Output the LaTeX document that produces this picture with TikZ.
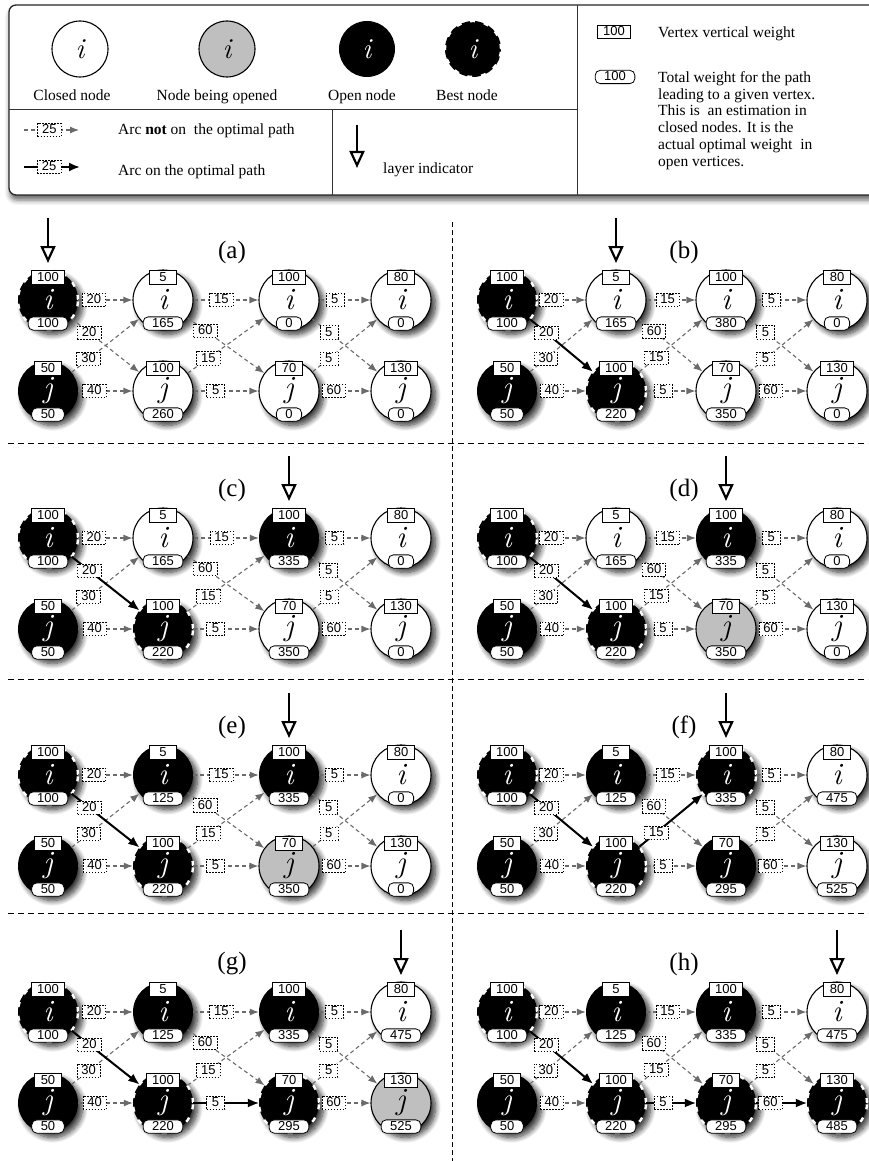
\documentclass[tikz,border=0pt]{standalone}
\usepackage{fontspec}
\setmainfont{Liberation Serif}
\setsansfont{Liberation Sans}
\newfontfamily\lmrfont{Latin Modern Roman}
\newcommand\vletter[1]{{\lmrfont\itshape #1}}
\usetikzlibrary{arrows.meta,shadows.blur}
\definecolor{nodegray}{gray}{0.75}
\definecolor{arcgray}{gray}{0.42}

% one vertex: circle, vertical weight on top, path weight below
\newcommand\Vtx[7]{%
  \pgfmathsetmacro\vxx{#2}\pgfmathsetmacro\vyy{#3}%
  \node[#4] (#1) at (\vxx,\vyy) {\vletter{#5}};
  \node[wbox] (#1t) at (\vxx,\vyy-22.5) {#6};
  \node[tbox] (#1b) at (\vxx,\vyy+23.5) {#7};
}
% the twelve arcs of a layered graph
\newcommand\Arcs[1]{%
  \draw[garc] (#1-i1) -- node[alabel,pos=.29]{20} (#1-i2);
  \draw[garc] (#1-i1) -- node[alabel,pos=.26]{20} (#1-j2);
  \draw[garc] (#1-j1) -- node[alabel,pos=.25]{30} (#1-i2);
  \draw[garc] (#1-j1) -- node[alabel,pos=.30]{40} (#1-j2);
  \draw[garc] (#1-i2) -- node[alabel,pos=.43]{15} (#1-i3);
  \draw[garc] (#1-i2) -- node[alabel,pos=.23]{60} (#1-j3);
  \draw[garc] (#1-j2) -- node[alabel,pos=.27]{15} (#1-i3);
  \draw[garc] (#1-j2) -- node[alabel,pos=.34]{5} (#1-j3);
  \draw[garc] (#1-i3) -- node[alabel,pos=.30]{5} (#1-i4);
  \draw[garc] (#1-i3) -- node[alabel,pos=.25]{5} (#1-j4);
  \draw[garc] (#1-j3) -- node[alabel,pos=.25]{5} (#1-i4);
  \draw[garc] (#1-j3) -- node[alabel,pos=.28]{60} (#1-j4);
}
% an arc of the optimal path, drawn over its grey version
\newcommand\Opt[5]{\draw[oarc] (#1-#2) -- node[alabel,pos=#4]{#5} (#1-#3);}
% layer indicator above a column
\newcommand\Layer[2]{%
  \coordinate (#1-lt) at (#2,\yi-82);
  \coordinate (#1-lb) at (#2,\yi-37);
  \draw[layer] (#1-lt) -- (#1-lb);
}
\newcommand\Plabel[1]{\node[plabel] (#1-lab) at (\px,\yi-48) {(#1)};}
\newcommand\LeftCols{\def\cxa{48}\def\cxb{163}\def\cxc{289}\def\cxd{401}\def\px{232}}
\newcommand\RightCols{\def\cxa{507}\def\cxb{616}\def\cxc{726}\def\cxd{837}\def\px{684}}
\newcommand\RowY[1]{\def\yi{#1}\pgfmathsetmacro\yj{#1+91}}

\begin{document}
\begin{tikzpicture}[x=1pt,y=-1pt,
  vshadow/.style={blur shadow={shadow xshift=4.5pt,shadow yshift=-4.5pt,shadow blur radius=5.5pt,shadow blur steps=10,shadow opacity=80}},
  fW/.style={draw=black,line width=1.1pt,fill=white},
  fG/.style={draw=black,line width=1.1pt,fill=nodegray},
  fB/.style={fill=black,text=white},
  fS/.style={fill=black,text=white,postaction={draw=white,line width=2.4pt,dash pattern=on 5pt off 9pt}},
  vbase/.style={circle,minimum size=60pt,inner sep=0pt,font=\fontsize{31}{31}\selectfont,vshadow},
  vW/.style={vbase,fW}, vG/.style={vbase,fG}, vB/.style={vbase,fB}, vS/.style={vbase,fS},
  lnode/.style={circle,minimum size=56pt,inner sep=0pt,font=\fontsize{29}{29}\selectfont},
  numfont/.style={font=\sffamily\fontsize{13}{13}\selectfont},
  wbox/.style={numfont,draw=black,fill=white,text=black,line width=0.8pt,inner xsep=6pt,inner ysep=0.8pt,text height=9.8pt,text depth=1.9pt,minimum width=27pt},
  tbox/.style={wbox,rounded corners=5pt,inner xsep=9pt,minimum width=24pt},
  alabel/.style={numfont,draw=black,fill=white,text=black,line width=0.6pt,dash pattern=on 1.6pt off 1.4pt,inner xsep=4.5pt,inner ysep=0.8pt,text height=9.8pt,text depth=1.9pt,minimum width=18pt},
  garc/.style={draw=arcgray,line width=1.1pt,dash pattern=on 4pt off 3pt,-{Latex[length=9pt,width=7pt]}},
  oarc/.style={draw=black,line width=2pt,-{Latex[length=11pt,width=9pt]}},
  layer/.style={draw=black,line width=2.8pt,-{Triangle[open,length=17pt,width=15pt,line width=2.2pt]}},
  ltext/.style={font=\fontsize{15.5}{16.7}\selectfont,inner sep=0pt},
  plabel/.style={font=\fontsize{25}{25}\selectfont,inner sep=0pt},
  rule/.style={draw=black!80,line width=1pt},
  divider/.style={draw=black,line width=0.9pt,dash pattern=on 6pt off 4pt},
]
\useasboundingbox (0,0) rectangle (868,1161);

% ---------------- legend ----------------
\draw[draw=black!85,line width=1.3pt,rounded corners=7pt,fill=white,
      blur shadow={shadow xshift=1pt,shadow yshift=-5pt,shadow blur radius=5pt,shadow opacity=60}]
  (9,5) rectangle (900,195);
\coordinate (lg-v1t) at (577,5);  \coordinate (lg-v1b) at (577,195);
\coordinate (lg-h1l) at (9,110);  \coordinate (lg-h1r) at (577,110);
\coordinate (lg-v2t) at (332,110); \coordinate (lg-v2b) at (332,195);
\draw[rule] (lg-v1t) -- (lg-v1b);
\draw[rule] (lg-h1l) -- (lg-h1r);
\draw[rule] (lg-v2t) -- (lg-v2b);

\node[lnode,fW] (lg-closed)  at (80,49)  {\vletter{i}};
\node[lnode,fG] (lg-opening) at (227,49) {\vletter{i}};
\node[lnode,fB] (lg-open)    at (367,49) {\vletter{i}};
\node[lnode,fS] (lg-best)    at (473,49) {\vletter{i}};
\node[ltext,anchor=base] (lg-closed-t)  at (72,101)  {Closed node};
\node[ltext,anchor=base] (lg-opening-t) at (217,101) {Node being opened};
\node[ltext,anchor=base] (lg-open-t)    at (362,101) {Open node};
\node[ltext,anchor=base] (lg-best-t)    at (467,101) {Best node};

\coordinate (lg-g1) at (24,130); \coordinate (lg-g2) at (79,130);
\draw[garc] (lg-g1) -- node[alabel,pos=.46]{25} (lg-g2);
\coordinate (lg-o1) at (24,167); \coordinate (lg-o2) at (80,167);
\draw[oarc] (lg-o1) -- node[alabel,pos=.45]{25} (lg-o2);
\node[ltext,anchor=base west] (lg-not) at (118,135) {Arc \textbf{not} on~ the optimal path};
\node[ltext,anchor=base west] (lg-on)  at (118,176) {Arc on the optimal path};

\coordinate (lg-l1) at (357,125); \coordinate (lg-l2) at (357,168);
\draw[layer] (lg-l1) -- (lg-l2);
\node[ltext,anchor=base west] (lg-layer) at (383,174) {layer indicator};

\node[wbox] (lg-w) at (614,32) {100};
\node[ltext,anchor=base west] (lg-w-t) at (658,38) {Vertex vertical weight};
\node[tbox] (lg-t) at (615,77) {100};
\node[ltext,anchor=north west,align=left] (lg-t-t) at (658,71.4)
  {Total weight for the path\\ leading to a given vertex.\\ This is~ an estimation in\\ closed nodes. It is the\\ actual optimal weight~ in\\ open vertices.};

% ---------------- dividers ----------------
\coordinate (d-v1) at (452,222); \coordinate (d-v2) at (452,1161);
\draw[draw=black,line width=0.8pt,dash pattern=on 4.5pt off 3.5pt] (d-v1) -- (d-v2);
\coordinate (d-a1) at (8,443); \coordinate (d-a2) at (868,443);
\coordinate (d-b1) at (8,679); \coordinate (d-b2) at (868,679);
\coordinate (d-c1) at (8,913); \coordinate (d-c2) at (868,913);
\draw[divider] (d-a1) -- (d-a2);
\draw[divider] (d-b1) -- (d-b2);
\draw[divider] (d-c1) -- (d-c2);

% ---------------- (a) ----------------
\LeftCols\RowY{300}
\Vtx{a-i1}{\cxa}{\yi}{vS}{i}{100}{100}
\Vtx{a-i2}{\cxb}{\yi}{vW}{i}{5}{165}
\Vtx{a-i3}{\cxc}{\yi}{vW}{i}{100}{0}
\Vtx{a-i4}{\cxd}{\yi}{vW}{i}{80}{0}
\Vtx{a-j1}{\cxa}{\yj}{vB}{j}{50}{50}
\Vtx{a-j2}{\cxb}{\yj}{vW}{j}{100}{260}
\Vtx{a-j3}{\cxc}{\yj}{vW}{j}{70}{0}
\Vtx{a-j4}{\cxd}{\yj}{vW}{j}{130}{0}
\Arcs{a}
\Layer{a}{\cxa}
\Plabel{a}

% ---------------- (b) ----------------
\RightCols\RowY{300}
\Vtx{b-i1}{\cxa}{\yi}{vS}{i}{100}{100}
\Vtx{b-i2}{\cxb}{\yi}{vW}{i}{5}{165}
\Vtx{b-i3}{\cxc}{\yi}{vW}{i}{100}{380}
\Vtx{b-i4}{\cxd}{\yi}{vW}{i}{80}{0}
\Vtx{b-j1}{\cxa}{\yj}{vB}{j}{50}{50}
\Vtx{b-j2}{\cxb}{\yj}{vS}{j}{100}{220}
\Vtx{b-j3}{\cxc}{\yj}{vW}{j}{70}{350}
\Vtx{b-j4}{\cxd}{\yj}{vW}{j}{130}{0}
\Arcs{b}
\Opt{b}{i1}{j2}{.26}{20}
\Layer{b}{\cxb}
\Plabel{b}

% ---------------- (c) ----------------
\LeftCols\RowY{538}
\Vtx{c-i1}{\cxa}{\yi}{vS}{i}{100}{100}
\Vtx{c-i2}{\cxb}{\yi}{vW}{i}{5}{165}
\Vtx{c-i3}{\cxc}{\yi}{vB}{i}{100}{335}
\Vtx{c-i4}{\cxd}{\yi}{vW}{i}{80}{0}
\Vtx{c-j1}{\cxa}{\yj}{vB}{j}{50}{50}
\Vtx{c-j2}{\cxb}{\yj}{vS}{j}{100}{220}
\Vtx{c-j3}{\cxc}{\yj}{vW}{j}{70}{350}
\Vtx{c-j4}{\cxd}{\yj}{vW}{j}{130}{0}
\Arcs{c}
\Opt{c}{i1}{j2}{.26}{20}
\Layer{c}{\cxc}
\Plabel{c}

% ---------------- (d) ----------------
\RightCols\RowY{538}
\Vtx{d-i1}{\cxa}{\yi}{vS}{i}{100}{100}
\Vtx{d-i2}{\cxb}{\yi}{vW}{i}{5}{165}
\Vtx{d-i3}{\cxc}{\yi}{vB}{i}{100}{335}
\Vtx{d-i4}{\cxd}{\yi}{vW}{i}{80}{0}
\Vtx{d-j1}{\cxa}{\yj}{vB}{j}{50}{50}
\Vtx{d-j2}{\cxb}{\yj}{vS}{j}{100}{220}
\Vtx{d-j3}{\cxc}{\yj}{vG}{j}{70}{350}
\Vtx{d-j4}{\cxd}{\yj}{vW}{j}{130}{0}
\Arcs{d}
\Opt{d}{i1}{j2}{.26}{20}
\Layer{d}{\cxc}
\Plabel{d}

% ---------------- (e) ----------------
\LeftCols\RowY{775}
\Vtx{e-i1}{\cxa}{\yi}{vS}{i}{100}{100}
\Vtx{e-i2}{\cxb}{\yi}{vB}{i}{5}{125}
\Vtx{e-i3}{\cxc}{\yi}{vB}{i}{100}{335}
\Vtx{e-i4}{\cxd}{\yi}{vW}{i}{80}{0}
\Vtx{e-j1}{\cxa}{\yj}{vB}{j}{50}{50}
\Vtx{e-j2}{\cxb}{\yj}{vS}{j}{100}{220}
\Vtx{e-j3}{\cxc}{\yj}{vG}{j}{70}{350}
\Vtx{e-j4}{\cxd}{\yj}{vW}{j}{130}{0}
\Arcs{e}
\Opt{e}{i1}{j2}{.26}{20}
\Layer{e}{\cxc}
\Plabel{e}

% ---------------- (f) ----------------
\RightCols\RowY{775}
\Vtx{f-i1}{\cxa}{\yi}{vS}{i}{100}{100}
\Vtx{f-i2}{\cxb}{\yi}{vB}{i}{5}{125}
\Vtx{f-i3}{\cxc}{\yi}{vS}{i}{100}{335}
\Vtx{f-i4}{\cxd}{\yi}{vW}{i}{80}{475}
\Vtx{f-j1}{\cxa}{\yj}{vB}{j}{50}{50}
\Vtx{f-j2}{\cxb}{\yj}{vS}{j}{100}{220}
\Vtx{f-j3}{\cxc}{\yj}{vB}{j}{70}{295}
\Vtx{f-j4}{\cxd}{\yj}{vW}{j}{130}{525}
\Arcs{f}
\Opt{f}{i1}{j2}{.26}{20}
\Opt{f}{j2}{i3}{.27}{15}
\Layer{f}{\cxc}
\Plabel{f}

% ---------------- (g) ----------------
\LeftCols\RowY{1012}
\Vtx{g-i1}{\cxa}{\yi}{vS}{i}{100}{100}
\Vtx{g-i2}{\cxb}{\yi}{vB}{i}{5}{125}
\Vtx{g-i3}{\cxc}{\yi}{vB}{i}{100}{335}
\Vtx{g-i4}{\cxd}{\yi}{vW}{i}{80}{475}
\Vtx{g-j1}{\cxa}{\yj}{vB}{j}{50}{50}
\Vtx{g-j2}{\cxb}{\yj}{vS}{j}{100}{220}
\Vtx{g-j3}{\cxc}{\yj}{vS}{j}{70}{295}
\Vtx{g-j4}{\cxd}{\yj}{vG}{j}{130}{525}
\Arcs{g}
\Opt{g}{i1}{j2}{.26}{20}
\Opt{g}{j2}{j3}{.34}{5}
\Layer{g}{\cxd}
\Plabel{g}

% ---------------- (h) ----------------
\RightCols\RowY{1012}
\Vtx{h-i1}{\cxa}{\yi}{vS}{i}{100}{100}
\Vtx{h-i2}{\cxb}{\yi}{vB}{i}{5}{125}
\Vtx{h-i3}{\cxc}{\yi}{vB}{i}{100}{335}
\Vtx{h-i4}{\cxd}{\yi}{vW}{i}{80}{475}
\Vtx{h-j1}{\cxa}{\yj}{vB}{j}{50}{50}
\Vtx{h-j2}{\cxb}{\yj}{vS}{j}{100}{220}
\Vtx{h-j3}{\cxc}{\yj}{vS}{j}{70}{295}
\Vtx{h-j4}{\cxd}{\yj}{vS}{j}{130}{485}
\Arcs{h}
\Opt{h}{i1}{j2}{.26}{20}
\Opt{h}{j2}{j3}{.34}{5}
\Opt{h}{j3}{j4}{.28}{60}
\Layer{h}{\cxd}
\Plabel{h}
\end{tikzpicture}
\end{document}
